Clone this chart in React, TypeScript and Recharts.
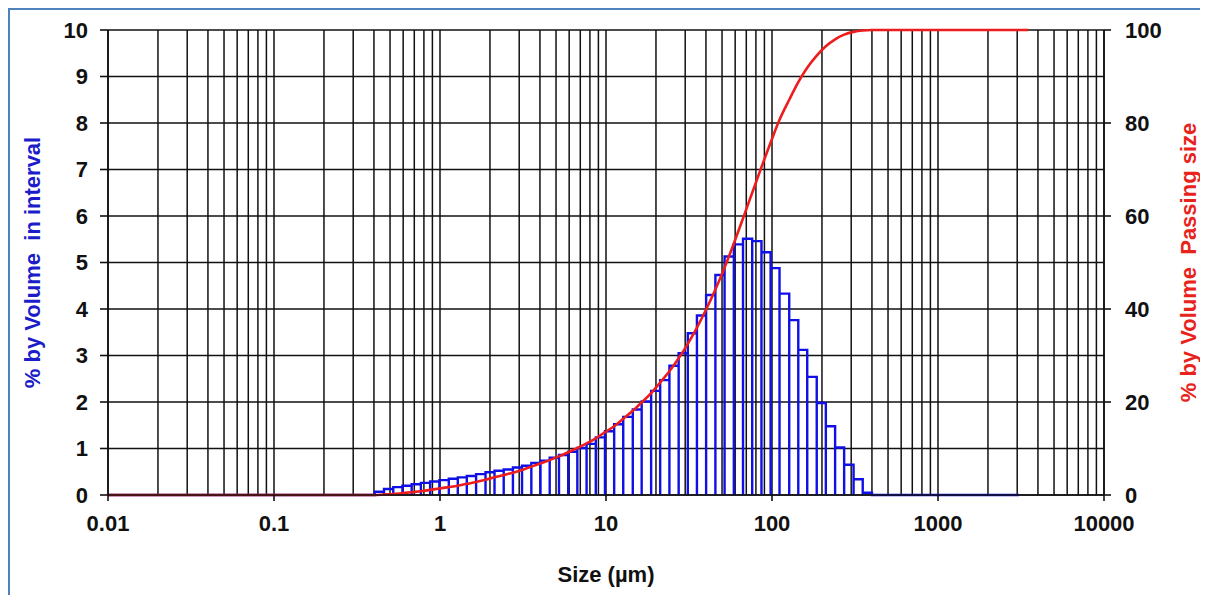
import React from "react";
import { ComposedChart, Line, XAxis, YAxis, CartesianGrid, Label } from "recharts";

// size class edges (µm)
const sizeClasses = [
  0.01, 0.0114, 0.0129, 0.0147, 0.0167, 0.0189, 0.0215, 0.0244, 0.0278, 0.0315,
  0.0358, 0.0407, 0.0463, 0.0526, 0.0597, 0.0679, 0.0771, 0.0876, 0.0995, 0.113,
  0.128, 0.146, 0.166, 0.188, 0.214, 0.243, 0.276, 0.314, 0.357, 0.405,
  0.46, 0.523, 0.594, 0.675, 0.767, 0.872, 0.991, 1.13, 1.28, 1.45,
  1.65, 1.88, 2.13, 2.42, 2.75, 3.12, 3.55, 4.03, 4.58, 5.21,
  5.92, 6.72, 7.64, 8.68, 9.86, 11.2, 12.7, 14.5, 16.4, 18.7,
  21.2, 24.1, 27.4, 31.1, 35.3, 40.1, 45.6, 51.8, 58.9, 66.9,
  76.0, 86.4, 98.1, 111, 127, 144, 163, 186, 211, 240,
  272, 310, 352, 400, 454, 516, 586, 666, 756, 859,
  976, 1110, 1260, 1430, 1630, 1850, 2100, 2390, 2710, 3080,
  3500,
];

// % by volume in each interval (bin i spans sizeClasses[i] .. sizeClasses[i+1])
const volumeInInterval = [
  0, 0, 0, 0, 0, 0, 0, 0, 0, 0,
  0, 0, 0, 0, 0, 0, 0, 0, 0, 0,
  0, 0, 0, 0, 0, 0, 0, 0, 0, 0.07,
  0.13, 0.17, 0.2, 0.23, 0.26, 0.29, 0.32, 0.35, 0.38, 0.41,
  0.45, 0.49, 0.52, 0.55, 0.59, 0.63, 0.69, 0.74, 0.8, 0.86,
  0.93, 1.01, 1.1, 1.24, 1.37, 1.52, 1.68, 1.84, 2.01, 2.24,
  2.47, 2.78, 3.05, 3.48, 3.86, 4.3, 4.73, 5.13, 5.39, 5.51,
  5.46, 5.22, 4.88, 4.33, 3.76, 3.12, 2.54, 1.98, 1.48, 1.02,
  0.65, 0.34, 0.05, 0, 0, 0, 0, 0, 0, 0,
  0, 0, 0, 0, 0, 0, 0, 0, 0,
];

// % by volume passing each size class edge
const passingSize = [
  0, 0, 0, 0, 0, 0, 0, 0, 0, 0,
  0, 0, 0, 0, 0, 0, 0, 0, 0, 0,
  0, 0, 0, 0, 0, 0, 0, 0, 0, 0,
  0.1, 0.2, 0.4, 0.6, 0.8, 1.1, 1.4, 1.7, 2.0, 2.4,
  2.8, 3.3, 3.8, 4.3, 4.8, 5.4, 6.1, 6.8, 7.5, 8.3,
  9.2, 10.1, 11.1, 12.2, 13.5, 14.8, 16.4, 18.1, 19.9, 21.9,
  24.2, 26.6, 29.4, 32.5, 36.0, 39.9, 44.2, 48.9, 54.1, 59.5,
  65.0, 70.5, 75.8, 80.7, 85.0, 88.8, 91.9, 94.5, 96.5, 98.0,
  99.0, 99.6, 99.9, 100, 100, 100, 100, 100, 100, 100,
  100, 100, 100, 100, 100, 100, 100, 100, 100, 100,
  100,
];

const sizeTicks = [0.01, 0.1, 1, 10, 100, 1000, 10000];
const gridSizes = [
  0.01, 0.02, 0.03, 0.04, 0.05, 0.06, 0.07, 0.08, 0.09,
  0.1, 0.2, 0.3, 0.4, 0.5, 0.6, 0.7, 0.8, 0.9,
  1, 2, 3, 4, 5, 6, 7, 8, 9,
  10, 20, 30, 40, 50, 60, 70, 80, 90,
  100, 200, 300, 400, 500, 600, 700, 800, 900,
  1000, 2000, 3000, 4000, 5000, 6000, 7000, 8000, 9000,
  10000,
];
const intervalTicks = [0, 1, 2, 3, 4, 5, 6, 7, 8, 9, 10];
const passingTicks = [0, 20, 40, 60, 80, 100];

// outline of the histogram: each bin is a closed rectangle sitting on 0
const histogram: { size: number; pct: number }[] = [{ size: sizeClasses[0], pct: 0 }];
volumeInInterval.forEach((v, i) => {
  histogram.push(
    { size: sizeClasses[i], pct: v },
    { size: sizeClasses[i + 1], pct: v },
    { size: sizeClasses[i + 1], pct: 0 }
  );
});
const passing = sizeClasses.map((s, i) => ({ size: s, pct: passingSize[i] }));

const font = '"Liberation Sans", Arial, sans-serif';
const tickStyle = { fontSize: 22, fontWeight: 700, fill: "#111", fontFamily: font };
const titleStyle = { textAnchor: "middle", fontSize: 22, fontWeight: 700, fontFamily: font } as const;
const axisStroke = { stroke: "#111", strokeWidth: 1.6 };
const fmtSize = (v: number) => String(v);

export default function App() {
  return (
    <div style={{ width: 1200, height: 590, borderTop: "2px solid #4f81bd", borderLeft: "2px solid #4f81bd", background: "#fff" }}>
      <ComposedChart width={1198} height={585} margin={{ top: 20, right: 10, bottom: 10, left: 10 }}>
        <CartesianGrid
          xAxisId="size"
          yAxisId="left"
          stroke="#111"
          strokeWidth={1.5}
          verticalValues={gridSizes}
          horizontalValues={intervalTicks}
        />
        <XAxis
          xAxisId="size"
          dataKey="size"
          type="number"
          scale="log"
          domain={[0.01, 10000]}
          allowDataOverflow
          ticks={sizeTicks}
          interval={0}
          tickFormatter={fmtSize}
          tick={tickStyle}
          tickSize={6}
          tickMargin={14}
          height={90}
          axisLine={axisStroke}
          tickLine={axisStroke}
        >
          <Label value="Size (µm)" position="insideBottom" offset={3} style={{ ...titleStyle, fill: "#111" }} />
        </XAxis>
        <YAxis
          yAxisId="left"
          domain={[0, 10]}
          ticks={intervalTicks}
          interval={0}
          tick={tickStyle}
          tickSize={8}
          tickMargin={12}
          width={88}
          axisLine={axisStroke}
          tickLine={axisStroke}
        >
          <Label
            value={"% by Volume\u00a0 in interval"}
            angle={-90}
            position="insideLeft"
            offset={12}
            style={{ ...titleStyle, fill: "#1c1cc8" }}
          />
        </YAxis>
        <YAxis
          yAxisId="right"
          orientation="right"
          domain={[0, 100]}
          ticks={passingTicks}
          interval={0}
          tick={tickStyle}
          tickSize={7}
          tickMargin={14}
          width={94}
          axisLine={axisStroke}
          tickLine={axisStroke}
        >
          <Label
            value={"% by Volume\u00a0 Passing size"}
            angle={-90}
            position="insideRight"
            offset={10}
            style={{ ...titleStyle, fill: "#e8231c" }}
          />
        </YAxis>
        <Line
          xAxisId="size"
          yAxisId="left"
          data={histogram}
          dataKey="pct"
          type="linear"
          stroke="#1010e6"
          strokeWidth={2.4}
          dot={false}
          activeDot={false}
          isAnimationActive={false}
        />
        <Line
          xAxisId="size"
          yAxisId="right"
          data={passing}
          dataKey="pct"
          type="monotone"
          stroke="#ee1d1d"
          strokeWidth={2.6}
          dot={false}
          activeDot={false}
          isAnimationActive={false}
        />
      </ComposedChart>
    </div>
  );
}
